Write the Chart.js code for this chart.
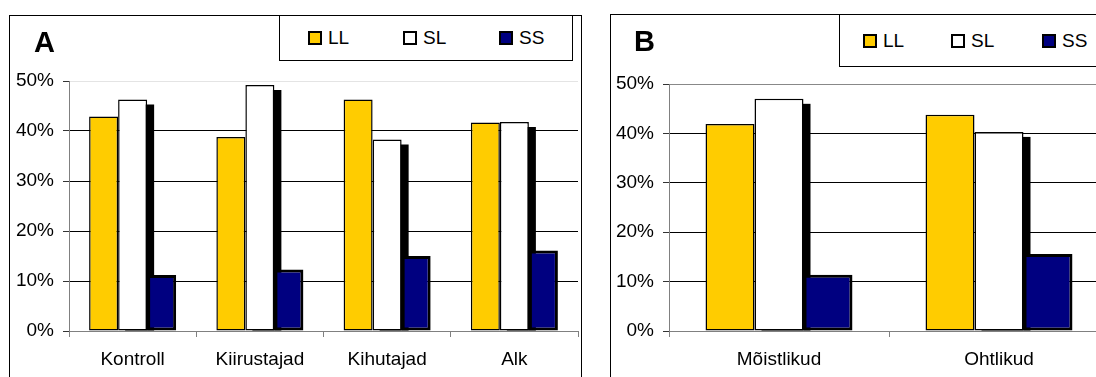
<!DOCTYPE html>
<html>
<head>
<meta charset="utf-8">
<script src="https://cdn.jsdelivr.net/npm/chart.js@4/dist/chart.umd.min.js"></script>
<style>
  html, body { margin: 0; padding: 0; width: 1096px; height: 377px; overflow: hidden; background: #fff; }
  body { position: relative; font-family: 'Liberation Sans', Arial, sans-serif; }
  .panel { position: absolute; border: 1px solid #000; box-sizing: border-box; height: 420px; }
  .panel canvas { position: absolute; left: 0; top: 0; }
  .letter { position: absolute; font-weight: bold; font-size: 29px; line-height: 29px; color: #000; }
  .legend { position: absolute; border: 1px solid #000; box-sizing: border-box; background: #fff; }
  .legend .item { position: absolute; top: 0; bottom: 0; display: flex; align-items: center; font-size: 19px; color: #000; }
  .legend .sw { width: 14px; height: 14px; box-sizing: border-box; border: 2px solid #000; margin-right: 6px; }
</style>
</head>
<body>
<div class="panel" id="panelA" style="left:9px; top:15px; width:573px;">
  <canvas id="chartA" width="570" height="361"></canvas>
</div>
<div class="letter" style="left:34px; top:28px;">A</div>
<div class="legend" id="legendA" style="left:279px; top:15px; width:294px; height:46px;"></div>

<div class="panel" id="panelB" style="left:610px; top:14px; width:600px;">
  <canvas id="chartB" width="510" height="362"></canvas>
</div>
<div class="letter" style="left:634px; top:27px;">B</div>
<div class="legend" id="legendB" style="left:839px; top:14px; width:300px; height:53px;"></div>

<script>
// series
const seriesNames = ['LL', 'SL', 'SS'];
const seriesColors = ['#FFCC00', '#FFFFFF', '#000080'];
const seriesBorders = [1.5, 1.5, 3];

// panel A
const groupsA = ['Kontroll', 'Kiirustajad', 'Kihutajad', 'Alk'];
const llA = [42.9, 38.8, 46.3, 41.7];
const slA = [46.3, 49.2, 38.3, 41.8];
const ssA = [11.2, 12.3, 15.0, 16.1];

// panel B
const groupsB = ['Mõistlikud', 'Ohtlikud'];
const llB = [41.9, 43.8];
const slB = [47.0, 40.3];
const ssB = [11.4, 15.6];

const yTicks = [0, 10, 20, 30, 40, 50];

Chart.defaults.font.family = "'Liberation Sans', Arial, sans-serif";
Chart.defaults.font.size = 19;
Chart.defaults.color = '#000';

// black shadow behind the white SL bars (drawn before the bars)
const shadowPlugin = {
  id: 'slShadow',
  beforeDatasetsDraw(chart) {
    const ctx = chart.ctx;
    const meta = chart.getDatasetMeta(1);
    ctx.save();
    ctx.fillStyle = '#000';
    meta.data.forEach(bar => {
      const w = bar.width;
      ctx.fillRect(bar.x - w / 2 + 7, bar.y + 5, w, bar.base - bar.y - 5);
    });
    ctx.restore();
  }
};

function makeChart(id, labels, values, opts) {
  const ctx = document.getElementById(id).getContext('2d');
  return new Chart(ctx, {
    type: 'bar',
    data: {
      labels: labels,
      datasets: values.map((v, i) => ({
        label: seriesNames[i],
        data: v,
        backgroundColor: seriesColors[i],
        borderColor: '#000',
        borderWidth: seriesBorders[i],
        borderSkipped: false,
        barPercentage: 1,
        categoryPercentage: opts.catPct
      }))
    },
    options: {
      responsive: false,
      animation: false,
      layout: { padding: { top: opts.top, right: opts.right, bottom: 0, left: 0 } },
      plugins: { legend: { display: false }, tooltip: { enabled: false } },
      scales: {
        x: {
          grid: { offset: true, drawOnChartArea: false, tickLength: 6, color: '#808080' },
          border: { color: '#808080' },
          ticks: { padding: 11, maxRotation: 0, autoSkip: false },
          afterFit(scale) { scale.height = opts.xh; }
        },
        y: {
          min: 0,
          max: 50,
          afterBuildTicks(scale) { scale.ticks = yTicks.map(v => ({ value: v })); },
          grid: {
            tickLength: 6,
            color: c => c.tick.value === 50 ? opts.topGrid : (c.tick.value === 0 ? '#808080' : '#000'),
            tickColor: '#333'
          },
          border: { color: '#808080' },
          ticks: { padding: 9, callback: v => v + '%' },
          afterFit(scale) { scale.width = opts.yw; }
        }
      }
    },
    plugins: [shadowPlugin]
  });
}

makeChart('chartA', groupsA, [llA, slA, ssA], { catPct: 0.684, top: 65, right: 2, xh: 46, yw: 59, topGrid: '#e4e4e4' });
makeChart('chartB', groupsB, [llB, slB, ssB], { catPct: 0.668, top: 69, right: 12, xh: 46, yw: 58, topGrid: '#888' });

function buildLegend(id, lefts) {
  const box = document.getElementById(id);
  seriesNames.forEach((name, i) => {
    const item = document.createElement('div');
    item.className = 'item';
    item.style.left = lefts[i] + 'px';
    const sw = document.createElement('span');
    sw.className = 'sw';
    sw.style.background = seriesColors[i];
    if (i === 2) sw.style.borderWidth = '2.5px';
    item.appendChild(sw);
    item.appendChild(document.createTextNode(name));
    box.appendChild(item);
  });
}
buildLegend('legendA', [28, 123, 219]);
buildLegend('legendB', [23, 111, 202]);
</script>
</body>
</html>
